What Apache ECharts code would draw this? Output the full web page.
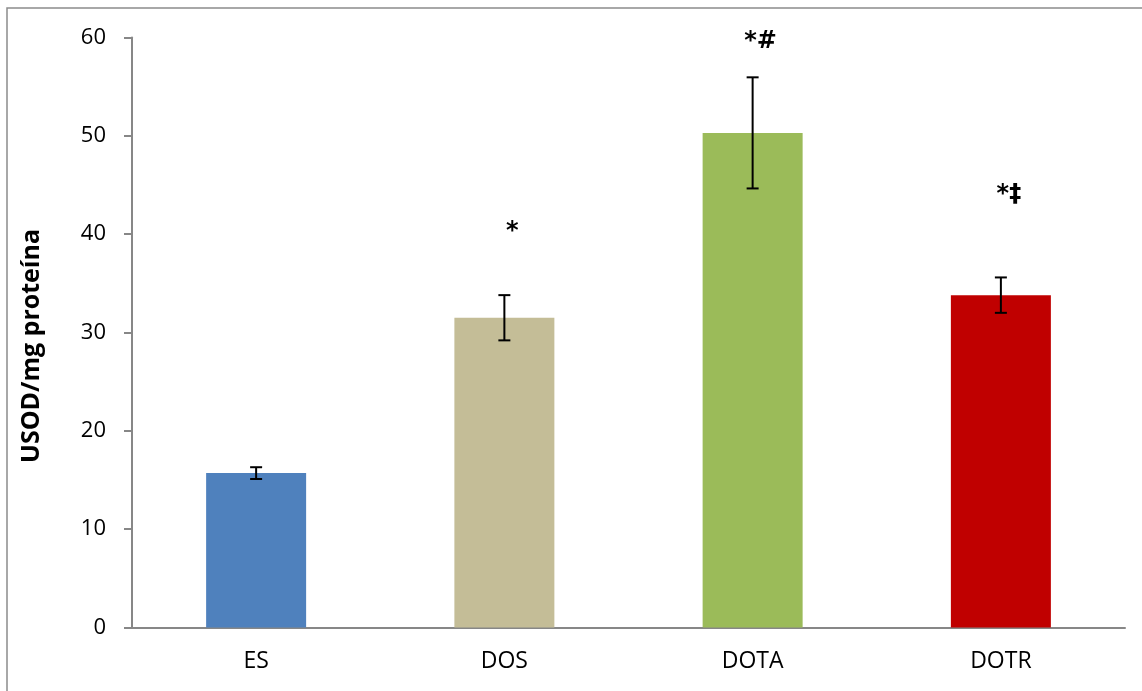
<!DOCTYPE html>
<html>
<head>
<meta charset="utf-8">
<script src="https://cdn.jsdelivr.net/npm/echarts@6/dist/echarts.min.js"></script>
<style>
  html, body { margin: 0; padding: 0; background: #ffffff; }
  #chart { width: 1142px; height: 691px; }
</style>
</head>
<body>
<div id="chart"></div>
<script>
// Superoxide dismutase activity per group
const categories = ['ES', 'DOS', 'DOTA', 'DOTR'];
const meanValues = [15.7, 31.5, 50.3, 33.8];
const errValues = [0.6, 2.3, 5.65, 1.8];
const barColors = ['#4f81bd', '#c4bd97', '#9bbb59', '#c00000'];
// significance marks drawn above each bar
const markTexts = ['', '*', '*#', '*‡'];
const markValues = [null, 40.2, 59.6, 44.0];
const yTicks = { min: 0, max: 60, interval: 10 };

const FONT = "'Open Sans', 'Liberation Sans', sans-serif";
const chart = echarts.init(document.getElementById('chart'));

const barData = meanValues.map((v, i) => ({
  value: v,
  itemStyle: { color: barColors[i] }
}));
const errData = meanValues.map((v, i) => [i, v - errValues[i], v + errValues[i]]);
const markData = markValues.map((v, i) => [i, v]).filter(d => d[1] != null);

chart.setOption({
  animation: false,
  backgroundColor: '#ffffff',
  graphic: [{
    type: 'rect',
    shape: { x: 7, y: 8, width: 1300, height: 900 },
    style: { fill: 'none', stroke: '#8c8c8c', lineWidth: 1.5 },
    silent: true,
    z: -1
  }, {
    type: 'text',
    x: 32,
    y: 346,
    rotation: Math.PI / 2,
    style: {
      text: 'USOD/mg proteína',
      font: 'bold 25px ' + FONT,
      fill: '#000000',
      align: 'center',
      verticalAlign: 'middle'
    }
  }],
  grid: { left: 132, right: 17, top: 37.5, bottom: 63.5, containLabel: false },
  xAxis: {
    type: 'category',
    data: categories,
    axisLine: { lineStyle: { color: '#878787', width: 2 } },
    axisTick: { show: false },
    axisLabel: {
      color: '#000000',
      fontSize: 23,
      fontFamily: FONT,
      margin: 22
    }
  },
  yAxis: {
    type: 'value',
    min: yTicks.min,
    max: yTicks.max,
    interval: yTicks.interval,
    axisLine: { show: true, lineStyle: { color: '#878787', width: 2 } },
    axisTick: { show: true, length: 8, lineStyle: { color: '#878787', width: 2 } },
    splitLine: { show: false },
    axisLabel: {
      color: '#000000',
      fontSize: 22,
      fontFamily: FONT,
      margin: 26
    }
  },
  series: [{
    type: 'bar',
    data: barData,
    barWidth: 100,
    z: 2
  }, {
    type: 'custom',
    z: 3,
    data: errData,
    renderItem: function (params, api) {
      const x = api.coord([api.value(0), api.value(1)])[0];
      const yLow = api.coord([api.value(0), api.value(1)])[1];
      const yHigh = api.coord([api.value(0), api.value(2)])[1];
      const hw = 6;
      const st = { stroke: '#000000', lineWidth: 2 };
      return {
        type: 'group',
        children: [
          { type: 'line', shape: { x1: x, y1: yHigh, x2: x, y2: yLow }, style: st },
          { type: 'line', shape: { x1: x - hw, y1: yHigh, x2: x + hw, y2: yHigh }, style: st },
          { type: 'line', shape: { x1: x - hw, y1: yLow, x2: x + hw, y2: yLow }, style: st }
        ]
      };
    }
  }, {
    type: 'custom',
    z: 4,
    data: markData,
    renderItem: function (params, api) {
      const p = api.coord([api.value(0), api.value(1)]);
      return {
        type: 'text',
        x: p[0] + 8,
        y: p[1],
        style: {
          text: markTexts[api.value(0)],
          font: 'bold 24px DejaVu Sans, sans-serif',
          fill: '#000000',
          align: 'center',
          verticalAlign: 'middle'
        }
      };
    }
  }]
});
</script>
</body>
</html>
